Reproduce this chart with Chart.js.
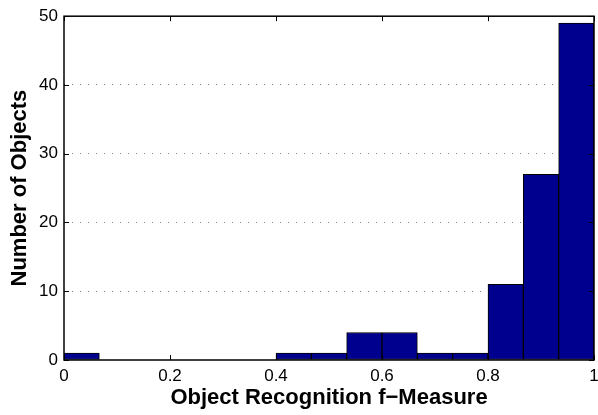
<!DOCTYPE html>
<html>
<head>
<meta charset="utf-8">
<script src="https://cdn.jsdelivr.net/npm/chart.js@4"></script>
<style>
  html, body { margin: 0; padding: 0; background: #fff; }
  #wrap { width: 598px; height: 415px; }
</style>
</head>
<body>
<div id="wrap"><canvas id="hist" width="598" height="415"></canvas></div>
<script>
// histogram bins (15 bins over 0..1) and counts
const binEdges = [0, 1/15, 2/15, 3/15, 4/15, 5/15, 6/15, 7/15, 8/15, 9/15, 10/15, 11/15, 12/15, 13/15, 14/15, 1];
const counts = [1, 0, 0, 0, 0, 0, 1, 1, 4, 4, 1, 1, 11, 27, 49];
const xTicks = [0, 0.2, 0.4, 0.6, 0.8, 1];
const yTicks = [0, 10, 20, 30, 40, 50];

const points = counts.map(function(c, i) {
    return { x: (binEdges[i] + binEdges[i + 1]) / 2, y: c };
});

// frame box + inward ticks, like matlab axes
const frameTicks = {
    id: 'frameTicks',
    afterDraw: function(chart) {
        const ctx = chart.ctx;
        const a = chart.chartArea;
        const xs = chart.scales.x, ys = chart.scales.y;
        const len = 5;
        ctx.save();
        ctx.strokeStyle = '#000';
        ctx.lineWidth = 1;
        ctx.beginPath();
        xTicks.forEach(function(v) {
            const px = Math.round(xs.getPixelForValue(v)) + 0.5;
            ctx.moveTo(px, a.bottom); ctx.lineTo(px, a.bottom - len);
            ctx.moveTo(px, a.top); ctx.lineTo(px, a.top + len);
        });
        yTicks.forEach(function(v) {
            const py = Math.round(ys.getPixelForValue(v)) + 0.5;
            ctx.moveTo(a.left, py); ctx.lineTo(a.left + len, py);
            ctx.moveTo(a.right, py); ctx.lineTo(a.right - len, py);
        });
        ctx.stroke();
        ctx.lineWidth = 1.5;
        ctx.strokeRect(a.left, a.top, a.right - a.left, a.bottom - a.top);
        ctx.restore();
    }
};

new Chart(document.getElementById('hist'), {
    type: 'bar',
    data: {
        datasets: [{
            data: points,
            backgroundColor: '#00008F',
            borderColor: '#000',
            borderWidth: 1,
            borderSkipped: false,
            barPercentage: 1,
            categoryPercentage: 1
        }]
    },
    options: {
        responsive: false,
        animation: false,
        layout: { padding: { left: 0, top: 13, right: 4, bottom: 0 } },
        plugins: {
            legend: { display: false },
            tooltip: { enabled: false }
        },
        scales: {
            x: {
                type: 'linear',
                min: 0,
                max: 1,
                offset: false,
                afterBuildTicks: function(s) { s.ticks = xTicks.map(function(v) { return { value: v }; }); },
                afterFit: function(s) { s.height = 55; s.paddingRight = 0; s.paddingLeft = 0; },
                grid: { display: false, drawTicks: false },
                border: { display: false },
                ticks: {
                    padding: 6,
                    color: '#000',
                    maxRotation: 0,
                    font: { family: 'Liberation Sans, Arial, sans-serif', size: 17 },
                    callback: function(v) { return String(Math.round(v * 10) / 10); }
                },
                title: {
                    display: true,
                    text: 'Object Recognition f\u2212Measure',
                    color: '#000',
                    padding: { top: 0, bottom: 4 },
                    font: { family: 'Liberation Sans, Arial, sans-serif', size: 22, weight: 'bold' }
                }
            },
            y: {
                min: 0,
                max: 50,
                afterBuildTicks: function(s) { s.ticks = yTicks.map(function(v) { return { value: v }; }); },
                afterFit: function(s) { s.width = 64; },
                grid: {
                    drawTicks: false,
                    color: function(c) { return (c.tick.value === 0 || c.tick.value === 50) ? 'rgba(0,0,0,0)' : '#888'; },
                    lineWidth: 1
                },
                border: { display: false, dash: [1, 7] },
                ticks: {
                    padding: 6,
                    color: '#000',
                    font: { family: 'Liberation Sans, Arial, sans-serif', size: 17 }
                },
                title: {
                    display: true,
                    text: 'Number of Objects',
                    color: '#000',
                    padding: { top: 7, bottom: 0 },
                    font: { family: 'Liberation Sans, Arial, sans-serif', size: 22, weight: 'bold' }
                }
            }
        }
    },
    plugins: [frameTicks]
});
</script>
</body>
</html>
